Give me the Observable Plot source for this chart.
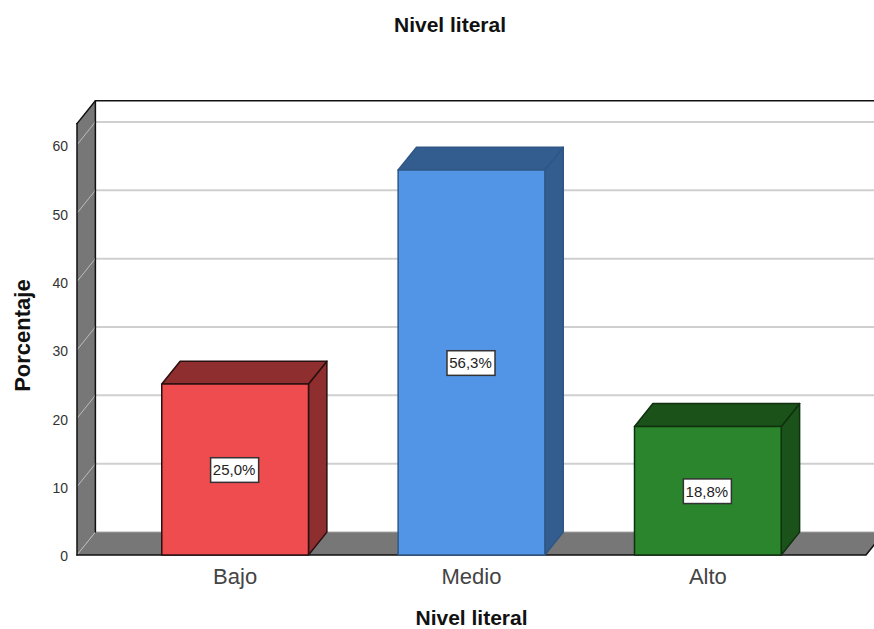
<!DOCTYPE html>
<html>
<head>
<meta charset="utf-8">
<script src="https://cdn.jsdelivr.net/npm/d3@7"></script>
<script src="https://cdn.jsdelivr.net/npm/@observablehq/plot@0.6"></script>
<style>
  html, body { margin: 0; padding: 0; background: #fff; overflow: hidden; }
  #title { width: 874px; height: 50px; text-align: center; padding-left: 26px; box-sizing: border-box;
           font: bold 21px/50px "Liberation Sans", Arial, sans-serif; color: #111; }
</style>
</head>
<body>
<div id="title">Nivel literal</div>
<div id="chart"></div>
<script>
const categories = ["Bajo", "Medio", "Alto"];
const values = [25.0, 56.3, 18.8];
const valueLabels = ["25,0%", "56,3%", "18,8%"];
const frontColors = ["#EE4C4F", "#5294E5", "#2A852C"];
const darkColors = ["#8F2E2E", "#335C8F", "#1A521A"];
const edgeColors = ["#2a1010", "#2F5785", "#10300f"];
const yTicks = [0, 10, 20, 30, 40, 50, 60];
const gridValues = [10, 20, 30, 40, 50, 60];

// 3-D construction, in data units of the two scales
const xMin = -0.669, xMax = 2.669, yTop = 63.1;
const depthX = 0.0778, depthY = 3.35, halfBar = 0.3104;
const boxHalfX = 0.1016, boxHalfY = 1.8;
const font = '"Liberation Sans", Arial, sans-serif';

const poly = (pts, fill, stroke, strokeWidth = 1.5) =>
  Plot.line([...pts, pts[0]].map(([x, y]) => ({x, y})), {x: "x", y: "y", fill, stroke, strokeWidth, curve: "linear"});
const path = (pts, stroke, strokeWidth = 1.5) =>
  Plot.line(pts.map(([x, y]) => ({x, y})), {x: "x", y: "y", stroke, strokeWidth, curve: "linear"});

const wallGrey = "#777777";
const marks = [];

// floor and left wall
marks.push(poly([[xMin, 0], [xMax, 0], [xMax + depthX, depthY], [xMin + depthX, depthY]], wallGrey, "none"));
marks.push(poly([[xMin, 0], [xMin + depthX, depthY], [xMin + depthX, yTop + depthY], [xMin, yTop]], wallGrey, "none"));

// grid on the back wall and its continuation over the left wall
for (const v of gridValues) {
  marks.push(path([[xMin + depthX, v + depthY], [xMax + depthX, v + depthY]], "#cfcfcf", 2));
  marks.push(path([[xMin, v], [xMin + depthX, v + depthY]], "#bdbdbd", 1));
}
marks.push(path([[xMin, 0], [xMin + depthX, depthY]], "#bdbdbd", 1));
marks.push(path([[xMin + depthX, depthY], [xMax + depthX, depthY]], "#9a9a9a", 1));

// frame outlines
marks.push(path([[xMin, yTop], [xMin + depthX, yTop + depthY]], "#111", 1.5));
marks.push(path([[xMin, 0], [xMin, yTop]], "#111", 1.5));
marks.push(path([[xMin + depthX, depthY], [xMin + depthX, yTop + depthY], [xMax + depthX, yTop + depthY]], "#111", 1.5));
marks.push(path([[xMin, 0], [xMax, 0], [xMax + depthX, depthY]], "#111", 1.5));

// bars
values.forEach((v, i) => {
  const x0 = i - halfBar, x1 = i + halfBar;
  marks.push(poly([[x1, 0], [x1 + depthX, depthY], [x1 + depthX, v + depthY], [x1, v]], darkColors[i], edgeColors[i]));
  marks.push(poly([[x0, v], [x1, v], [x1 + depthX, v + depthY], [x0 + depthX, v + depthY]], darkColors[i], edgeColors[i]));
  marks.push(poly([[x0, 0], [x1, 0], [x1, v], [x0, v]], frontColors[i], edgeColors[i]));
});

// value boxes
const rows = values.map((v, i) => ({i, v, label: valueLabels[i]}));
marks.push(Plot.rect(rows, {
  x1: d => d.i - boxHalfX, x2: d => d.i + boxHalfX,
  y1: d => d.v / 2 - boxHalfY, y2: d => d.v / 2 + boxHalfY,
  fill: "#fff", stroke: "#333", strokeWidth: 1.5, dy: 1
}));
marks.push(Plot.text(rows, {x: "i", y: d => d.v / 2, text: "label", fontSize: 15, fill: "#222", dx: -1, dy: 1, fontFamily: font}));

// axes
marks.push(Plot.axisY(yTicks, {anchor: "left", tickSize: 0, tickPadding: 9, fontSize: 14, fill: "#333", dy: 2, label: null, fontFamily: font}));
marks.push(Plot.axisX([0, 1, 2], {anchor: "bottom", tickSize: 0, tickPadding: 13, fontSize: 22, fill: "#444", label: null, tickFormat: i => categories[i], fontFamily: font}));
marks.push(Plot.text(["Nivel literal"], {frameAnchor: "bottom", dy: 70, fontSize: 21, fontWeight: "bold", fill: "#111", fontFamily: font}));
marks.push(Plot.text(["Porcentaje"], {frameAnchor: "left", dx: -54.5, dy: 64, rotate: -90, fontSize: 22, fontWeight: "bold", fill: "#111", fontFamily: font}));

const chart = Plot.plot({
  width: 874,
  height: 579,
  marginLeft: 76.5,
  marginRight: 8.5,
  marginTop: 50.2,
  marginBottom: 74.5,
  x: {domain: [xMin, xMax], axis: null},
  y: {domain: [0, yTop + depthY], axis: null},
  marks
});
document.getElementById("chart").append(chart);
</script>
</body>
</html>
